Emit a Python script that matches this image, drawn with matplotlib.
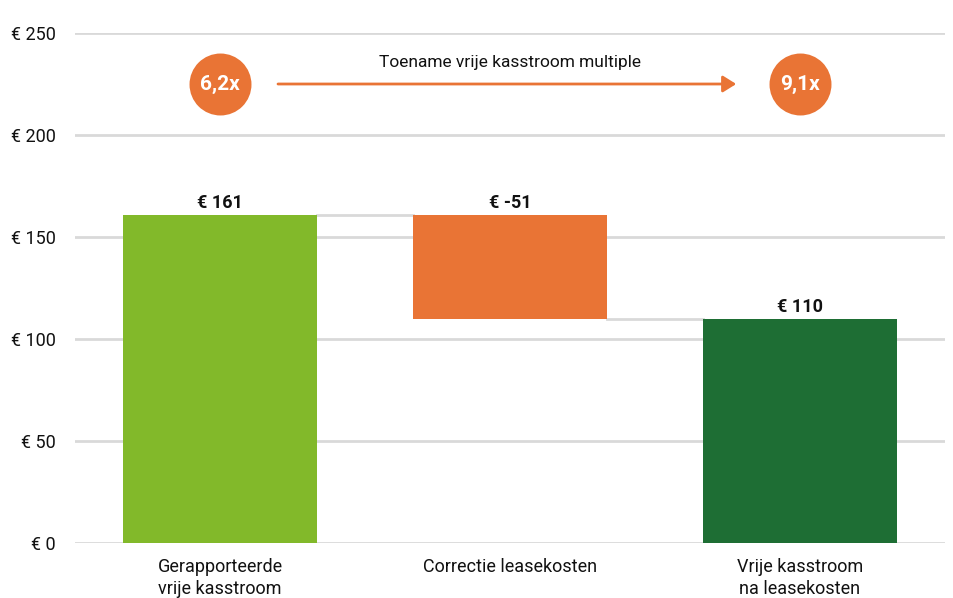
import numpy as np
import matplotlib.pyplot as plt
from matplotlib.patches import FancyArrowPatch

plt.rcParams['font.family'] = ['Roboto', 'DejaVu Sans']

# data
categories = ["Gerapporteerde\nvrije kasstroom", "Correctie leasekosten", "Vrije kasstroom\nna leasekosten"]
values = [161, -51, 110]
value_labels = ["€ 161", "€ -51", "€ 110"]
yticks = [0, 50, 100, 150, 200, 250]
ytick_labels = ["€ 0", "€ 50", "€ 100", "€ 150", "€ 200", "€ 250"]
multiple_before = "6,2x"
multiple_after = "9,1x"
arrow_text = "Toename vrije kasstroom multiple"

green = "#82b92a"
orange = "#e97435"
dark_green = "#1e6e34"
grid_col = "#d9d9d9"
txt = "#111111"

# waterfall bottoms / heights
bottoms = [0, values[0] + values[1], 0]
heights = [values[0], -values[1], values[2]]
tops = [b + h for b, h in zip(bottoms, heights)]
colors = [green, orange, dark_green]

fig = plt.figure(figsize=(9.54, 5.98), dpi=100)
ax = fig.add_axes([0.0786, 0.092, 0.912, 0.8528])

x = np.arange(len(categories))
width = 0.666

ax.set_ylim(0, 250)
ax.set_xlim(-0.5, 2.5)
ax.set_yticks(yticks)
ax.set_yticklabels(ytick_labels)
ax.grid(axis='y', color=grid_col, linewidth=2)
ax.set_axisbelow(True)
for s in ax.spines.values():
    s.set_visible(False)
ax.tick_params(axis='y', length=0, pad=14, labelsize=13, labelcolor=txt)
ax.tick_params(axis='x', length=0, pad=11, labelsize=13, labelcolor=txt)
ax.set_xticks(x)
ax.set_xticklabels(categories, linespacing=1.3, va='top')

ax.bar(x, heights, bottom=bottoms, width=width, color=colors, zorder=3)

# connectors
ax.plot([x[0] + width / 2, x[1] - width / 2], [values[0], values[0]], color=grid_col, lw=2, zorder=2)
ax.plot([x[1] + width / 2, x[2] - width / 2], [bottoms[1], bottoms[1]], color=grid_col, lw=2, zorder=2)

for xi, top, lab in zip(x, tops, value_labels):
    ax.annotate(lab, (xi, top), xytext=(0, 2), textcoords='offset points',
                ha='center', va='bottom', fontsize=13, fontweight='bold', color=txt)

# multiple circles + arrow
circle_y = 225
ax.scatter([x[0], x[2]], [circle_y, circle_y], s=1990, color=orange, zorder=4, linewidths=0, clip_on=False)
ax.text(x[0], circle_y, multiple_before, ha='center', va='center', color='white',
        fontsize=15, fontweight='bold', zorder=5)
ax.text(x[2], circle_y, multiple_after, ha='center', va='center', color='white',
        fontsize=15, fontweight='bold', zorder=5)
arr = FancyArrowPatch((0.2, circle_y), (1.78, circle_y), arrowstyle='-|>,head_length=8,head_width=5',
                      color=orange, lw=2, zorder=4, shrinkA=0, shrinkB=0)
ax.add_patch(arr)
ax.text(1.0, circle_y + 7, arrow_text, ha='center', va='bottom', fontsize=12.5, color=txt)

fig.savefig("out.png", dpi=100)
